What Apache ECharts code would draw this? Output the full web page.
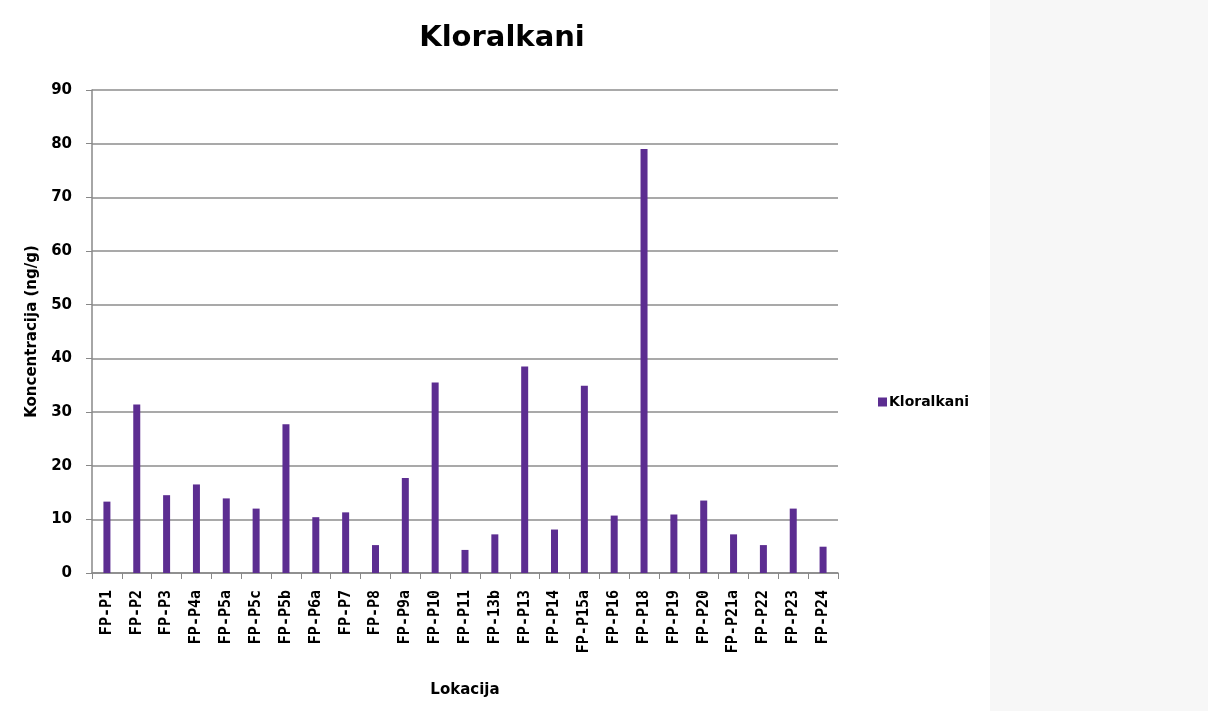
<!DOCTYPE html>
<html>
<head>
<meta charset="utf-8">
<script src="https://cdn.jsdelivr.net/npm/echarts@6/dist/echarts.min.js"></script>
<style>
  html, body { margin: 0; padding: 0; background: #fff; }
  #chart { width: 1208px; height: 711px; }
</style>
</head>
<body>
<div id="chart"></div>
<script>
// lokacije
var lokacije = ['FP-P1', 'FP-P2', 'FP-P3', 'FP-P4a', 'FP-P5a', 'FP-P5c', 'FP-P5b', 'FP-P6a', 'FP-P7',
  'FP-P8', 'FP-P9a', 'FP-P10', 'FP-P11', 'FP-13b', 'FP-P13', 'FP-P14', 'FP-P15a', 'FP-P16',
  'FP-P18', 'FP-P19', 'FP-P20', 'FP-P21a', 'FP-P22', 'FP-P23', 'FP-P24'];
// koncentracija (ng/g)
var kloralkani = [13.3, 31.4, 14.5, 16.5, 13.9, 12.0, 27.7, 10.4, 11.3,
  5.2, 17.7, 35.5, 4.3, 7.2, 38.5, 8.1, 34.9, 10.7,
  79.0, 10.9, 13.5, 7.2, 5.2, 12.0, 4.9];
var yTicks = [0, 10, 20, 30, 40, 50, 60, 70, 80, 90];

var font = 'DejaVu Sans';
var chart = echarts.init(document.getElementById('chart'));

chart.setOption({
  animation: false,
  backgroundColor: '#ffffff',
  graphic: [{
    type: 'rect',
    z: -10,
    shape: {x: 990, y: 0, width: 218, height: 711},
    style: {fill: '#f7f7f7'}
  }],
  title: {
    text: 'Kloralkani',
    left: 497,
    top: 19,
    textAlign: 'center',
    textStyle: {fontFamily: font, fontSize: 29, fontWeight: 'bold', color: '#000'}
  },
  legend: {
    left: 873,
    top: 390,
    itemWidth: 9,
    itemHeight: 9,
    itemGap: 4,
    icon: 'rect',
    textStyle: {fontFamily: font, fontSize: 14, fontWeight: 'bold', color: '#000', padding: [0, 0, 0, -3]}
  },
  grid: {left: 92, right: 370, top: 90, bottom: 138},
  xAxis: {
    type: 'category',
    data: lokacije,
    name: 'Lokacija',
    nameLocation: 'middle',
    nameGap: 110,
    nameTextStyle: {fontFamily: font, fontSize: 15, fontWeight: 'bold', color: '#000'},
    axisLine: {lineStyle: {color: '#888', width: 1.5}},
    axisTick: {show: true, length: 6, lineStyle: {color: '#888'}},
    axisLabel: {
      rotate: 90,
      interval: 0,
      margin: 17,
      fontFamily: 'DejaVu Sans Mono',
      fontSize: 15,
      fontWeight: 'bold',
      color: '#000'
    }
  },
  yAxis: {
    type: 'value',
    min: 0,
    max: 90,
    interval: 10,
    name: 'Koncentracija (ng/g)',
    nameLocation: 'middle',
    nameGap: 52,
    nameTextStyle: {fontFamily: font, fontSize: 15, fontWeight: 'bold', color: '#000'},
    axisLine: {show: true, lineStyle: {color: '#888', width: 1.5}},
    axisTick: {show: true, length: 6, inside: false, lineStyle: {color: '#888'}},
    axisLabel: {
      margin: 20,
      fontFamily: font,
      fontSize: 15,
      fontWeight: 'bold',
      color: '#000',
      formatter: function (v) { return yTicks.indexOf(v) >= 0 ? String(v) : ''; }
    },
    splitLine: {lineStyle: {color: '#8c8c8c', width: 1.5}}
  },
  series: [{
    name: 'Kloralkani',
    type: 'bar',
    data: kloralkani,
    barWidth: 7,
    itemStyle: {color: '#5c2d91'}
  }]
});
</script>
</body>
</html>
